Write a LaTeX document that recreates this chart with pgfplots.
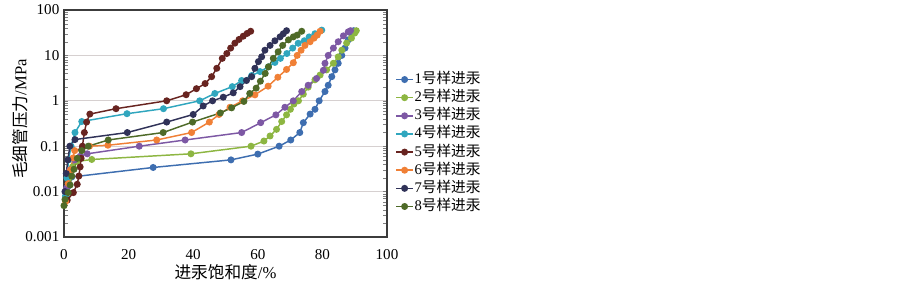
\documentclass[border=0pt]{standalone}
\usepackage{pgfplots}
\pgfplotsset{compat=1.18}
\usepackage{fontspec}
\setmainfont{Liberation Serif}
\newfontfamily\cjk{Noto Sans CJK SC}
\definecolor{s1}{RGB}{62,110,176}
\definecolor{s2}{RGB}{141,182,66}
\definecolor{s3}{RGB}{125,88,164}
\definecolor{s4}{RGB}{48,166,190}
\definecolor{s5}{RGB}{104,36,32}
\definecolor{s6}{RGB}{240,128,54}
\definecolor{s7}{RGB}{48,50,88}
\definecolor{s8}{RGB}{78,106,40}
\definecolor{gridc}{RGB}{214,208,208}
\definecolor{framec}{RGB}{60,60,60}
\begin{document}
\begin{tikzpicture}
\useasboundingbox (0,0) rectangle (677.25pt,216.75pt);
\begin{axis}[
  at={(48pt,39pt)}, anchor=south west,
  scale only axis, width=242.25pt, height=170.25pt,
  ymode=log, xmin=0, xmax=100, ymin=0.001, ymax=100,
  xtick={0,20,40,60,80,100},
  ytick={0.001,0.01,0.1,1,10,100},
  yticklabels={0.001,0.01,0.1,1,10,100},
  minor ytick={}, major tick length=0pt,
  ymajorgrids, grid style={draw=gridc, line width=0.9pt},
  axis line style={draw=framec, line width=1pt},
  /pgf/number format/assume math mode=true,
  tick label style={font=\fontsize{11.3}{12}\selectfont},
  xticklabel style={yshift=-6pt},
  xlabel={{\cjk 进汞饱和度}/\%},
  ylabel={{\cjk 毛细管压力}/MPa},
  every axis x label/.style={at={(axis description cs:0.5,-0.154)}, anchor=center, font=\fontsize{12.5}{14}\selectfont},
  every axis y label/.style={at={(axis description cs:-0.136,0.52)}, rotate=90, anchor=center, font=\fontsize{12.5}{14}\selectfont},
  legend style={at={(1.025,0.414)}, anchor=west, draw=none, fill=none, inner sep=0pt,
    font=\fontsize{11}{12}\selectfont, row sep=3.6pt,
    nodes={inner xsep=0.5pt, inner ysep=0pt, text height=8pt, text depth=2pt},
    cells={anchor=west}},
  legend image code/.code={\draw[mark repeat=2,mark phase=2] plot coordinates {(0cm,0cm) (0.225cm,0cm) (0.45cm,0cm)};},
  every axis plot/.append style={line width=1.1pt, mark=*, mark size=2.05pt},
]
\addplot[color=s1] coordinates {(0.5,0.008) (1.2,0.013) (2.4,0.021) (27.6,0.034) (51.7,0.05) (60,0.067) (66.6,0.1) (70.2,0.137) (73,0.2) (74.1,0.33) (76.2,0.51) (77.7,0.65) (79,1.0) (80.8,1.6) (81.8,2.2) (82.9,3.4) (83.9,4.8) (84.9,6.7) (86,10) (87,14.5) (88,22) (89,30) (89.7,35)};
\addlegendentry{1{\cjk 号样进汞}}
\addplot[color=s2] coordinates {(0.8,0.01) (1.6,0.02) (2.6,0.035) (4,0.046) (8.6,0.051) (39.3,0.068) (57.9,0.1) (61.9,0.13) (63.8,0.168) (65.8,0.235) (67.4,0.35) (68.9,0.49) (70.1,0.65) (71.2,0.85) (72.6,1.0) (74.1,1.4) (75.6,2.0) (77.7,2.9) (79.3,3.7) (81.3,4.8) (83.4,6.7) (84.9,9.3) (86,13) (87.5,18.7) (89,24) (90,31) (90.5,35)};
\addlegendentry{2{\cjk 号样进汞}}
\addplot[color=s3] coordinates {(0.8,0.012) (1.8,0.03) (3.3,0.05) (5,0.06) (7.2,0.068) (23.3,0.1) (37.5,0.137) (55,0.2) (60.9,0.33) (65.6,0.49) (68.4,0.72) (71,1.0) (73.6,1.6) (75.6,2.2) (78.2,3.1) (80.3,4.7) (80.8,6.7) (81.8,10) (83.4,14.5) (84.9,20) (86.5,27) (88,33) (88.7,35)};
\addlegendentry{3{\cjk 号样进汞}}
\addplot[color=s4] coordinates {(0.5,0.008) (0.9,0.02) (1.4,0.05) (2.2,0.1) (3.4,0.2) (5.5,0.35) (19.5,0.52) (30.8,0.67) (42,1.0) (46.7,1.45) (52.1,2.05) (55,2.8) (58.1,3.6) (60.7,4.4) (63.3,5.6) (65.3,7) (67,8.6) (69,11) (70.8,14.5) (72.5,18.5) (74.4,21) (75.9,25.5) (77.7,30) (79.8,36)};
\addlegendentry{4{\cjk 号样进汞}}
\addplot[color=s5] coordinates {(1,0.0065) (2.9,0.0095) (4.1,0.0145) (4.6,0.022) (5,0.035) (5.3,0.054) (5.5,0.083) (5.7,0.1) (6.3,0.2) (7,0.34) (8,0.51) (16.1,0.67) (31.8,1.0) (37.8,1.36) (41,1.85) (43.7,2.4) (45.7,3.4) (47.3,5.2) (49,8.6) (50.4,11) (51.6,14.5) (52.9,18.6) (54.2,22.5) (55.5,26.5) (56.7,30.5) (57.8,34)};
\addlegendentry{5{\cjk 号样进汞}}
\addplot[color=s6] coordinates {(0.5,0.006) (1.3,0.015) (2,0.03) (2.8,0.055) (3.3,0.08) (7.9,0.1) (13.6,0.105) (28.7,0.137) (39.5,0.2) (45,0.34) (48,0.5) (51.4,0.72) (55.3,1.0) (59.1,1.35) (63.2,2.1) (66.2,3.3) (68.9,4.9) (71,6.9) (72.2,10) (73.4,13) (74.6,16.6) (76.2,20) (77.4,24) (78.4,28) (79.3,34)};
\addlegendentry{6{\cjk 号样进汞}}
\addplot[color=s7] coordinates {(0.3,0.01) (0.7,0.025) (1.2,0.05) (1.8,0.1) (3.4,0.14) (19.6,0.2) (31.8,0.34) (40,0.5) (43.1,0.77) (46,1.0) (49.3,1.2) (52.4,1.5) (54.5,2.05) (56.5,2.8) (58.1,3.4) (59.1,5.2) (60.2,7.3) (61.2,9.3) (62.2,13) (63.8,16.6) (65.3,21) (66.9,25.6) (67.9,30) (68.9,35)};
\addlegendentry{7{\cjk 号样进汞}}
\addplot[color=s8] coordinates {(0,0.0049) (0.3,0.0067) (1.3,0.0095) (1.9,0.014) (2.4,0.022) (3.1,0.031) (4.1,0.054) (5.5,0.08) (7.5,0.1) (13.7,0.137) (30.7,0.2) (39.8,0.34) (48.4,0.54) (51.9,0.7) (55.7,0.97) (57.5,1.45) (59.5,1.9) (60.8,2.7) (62.3,4.0) (63.3,5.6) (64.8,8.6) (66.3,12) (67.7,16.6) (69.5,22) (71,25.6) (72.2,28) (73.6,34)};
\addlegendentry{8{\cjk 号样进汞}}
\end{axis}
\end{tikzpicture}
\end{document}
